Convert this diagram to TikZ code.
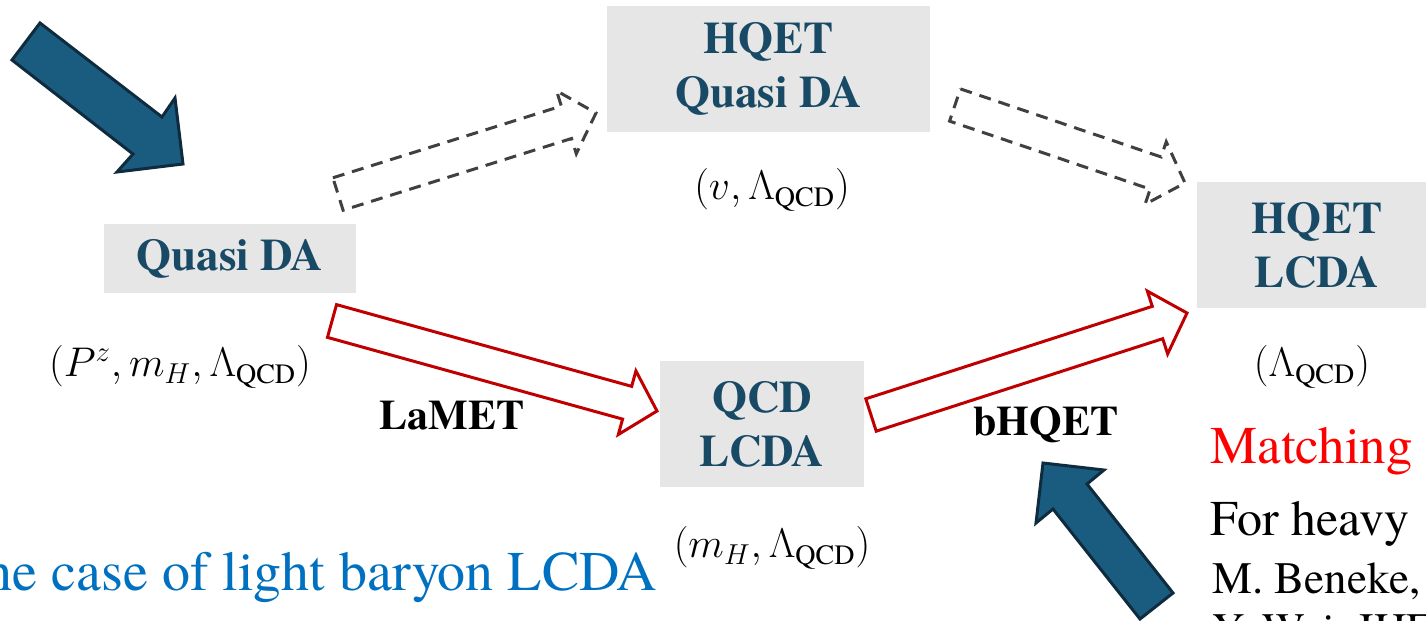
\documentclass[tikz,border=0pt]{standalone}
\usepackage{fontspec}
\IfFontExistsTF{texgyretermes-regular.otf}{%
  \setmainfont{texgyretermes}[Extension=.otf,UprightFont=*-regular,
    BoldFont=*-bold,ItalicFont=*-italic,BoldItalicFont=*-bolditalic]}{%
  \setmainfont{Latin Modern Roman}}
\usepackage{xcolor}
\definecolor{cBox}{HTML}{E7E6E6}
\definecolor{cText}{HTML}{184A66}
\definecolor{cBlue}{HTML}{1A5C80}
\definecolor{cBlueLine}{HTML}{0F2C3F}
\definecolor{cRed}{HTML}{C00000}
\definecolor{cDash}{HTML}{404040}
\definecolor{cNote}{HTML}{0070C0}
\definecolor{cMatch}{HTML}{FF0000}
\usepackage{tikz}
\usetikzlibrary{calc}
\tikzset{
  node-box/.style={fill=cBox,text=cText,align=center,inner sep=0pt,
    font=\fontsize{22.5}{27}\selectfont\bfseries},
  node-scale/.style={font=\fontsize{20}{24}\selectfont},
  node-step/.style={font=\fontsize{21}{25}\selectfont\bfseries},
  node-note/.style={anchor=base west,inner sep=0pt},
  arrow-fat/.style={line width=1.5pt,line join=miter},
  arrow-guess/.style={arrow-fat,draw=cDash,dash pattern=on 6pt off 4pt},
  arrow-match/.style={arrow-fat,draw=cRed,fill=white},
  arrow-point/.style={draw=cBlueLine,fill=cBlue,line width=1.5pt,line join=miter},
}
% hollow block arrow from #2 (tail) to #3 (tip)
\newcommand\fatarrow[3]{%
  \coordinate (#2h) at ($(#3)!15.5pt!(#2)$);
  \draw[#1] ($(#2)!8.5pt!90:(#3)$) -- ($(#2h)!8.5pt!90:(#3)$)
    -- ($(#2h)!16.5pt!90:(#3)$) -- (#3)
    -- ($(#2h)!16.5pt!-90:(#3)$) -- ($(#2h)!8.5pt!-90:(#3)$)
    -- ($(#2)!8.5pt!-90:(#3)$) -- cycle;
}

\begin{document}
\begin{tikzpicture}[x=0.5pt,y=-0.5pt]
  \useasboundingbox (0,0) rectangle (1426,621);
  \clip (0,0) rectangle (1426,621);

  % distribution amplitudes
  \node[node-box,minimum width=126pt,minimum height=34.5pt] (qda) at (230,258.5) {Quasi DA};
  \node[node-box,minimum width=161.5pt,minimum height=63pt] (hqda) at (768.5,69) {HQET\\Quasi DA};
  \node[node-box,minimum width=120pt,minimum height=63pt] (hlcda) at (1317,245) {HQET\\LCDA};
  \node[node-box,minimum width=102pt,minimum height=63pt] (qlcda) at (762,424) {QCD\\LCDA};

  % scales
  \node[node-scale] (qda-s) at (180,367) {$(P^z, m_H, \Lambda_{\mathrm{QCD}})$};
  \node[node-scale] (hqda-s) at (772,190) {$(v, \Lambda_{\mathrm{QCD}})$};
  \node[node-scale] (hlcda-s) at (1312,367) {$(\Lambda_{\mathrm{QCD}})$};
  \node[node-scale] (qlcda-s) at (772,548) {$(m_H, \Lambda_{\mathrm{QCD}})$};

  % matching steps
  \coordinate (d1) at (338,194);  \coordinate (d1e) at (596,113);
  \coordinate (d2) at (955,105);  \coordinate (d2e) at (1185,183);
  \coordinate (r1) at (332,321);  \coordinate (r1e) at (657,411);
  \coordinate (r2) at (871,415);  \coordinate (r2e) at (1187,313);
  \fatarrow{arrow-guess}{d1}{d1e}
  \fatarrow{arrow-guess}{d2}{d2e}
  \fatarrow{arrow-match}{r1}{r1e}
  \fatarrow{arrow-match}{r2}{r2e}
  \node[node-step] (lamet) at (452,416) {LaMET};
  \node[node-step] (bhqet) at (1046,425) {bHQET};

  % pointers
  \draw[arrow-point] (40,23) -- (162,117) -- (175,98) -- (183,164)
    -- (117,172) -- (133,154) -- (12,60) -- cycle;
  \draw[arrow-point] (1043,463) -- (1104,470) -- (1087,484) -- (1173,593)
    -- (1140,619) -- (1053,509) -- (1036,523) -- cycle;

  % side notes
  \node[anchor=base east,inner sep=0pt,text=cNote,font=\fontsize{28}{34}\selectfont]
    (case) at (657,590) {he case of light baryon LCDA};
  \node[node-note,text=cMatch,font=\fontsize{26.5}{32}\selectfont] (match) at (1210,463) {Matching};
  \node[node-note,font=\fontsize{25}{30}\selectfont] (heavy) at (1210,535) {For heavy};
  \node[node-note,font=\fontsize{22.5}{27}\selectfont] (ref1) at (1212,593) {M. Beneke,};
  \node[node-note,font=\fontsize{22.5}{27}\selectfont] (ref2) at (1212,644) {Y. Wei, JHEP};
\end{tikzpicture}
\end{document}
